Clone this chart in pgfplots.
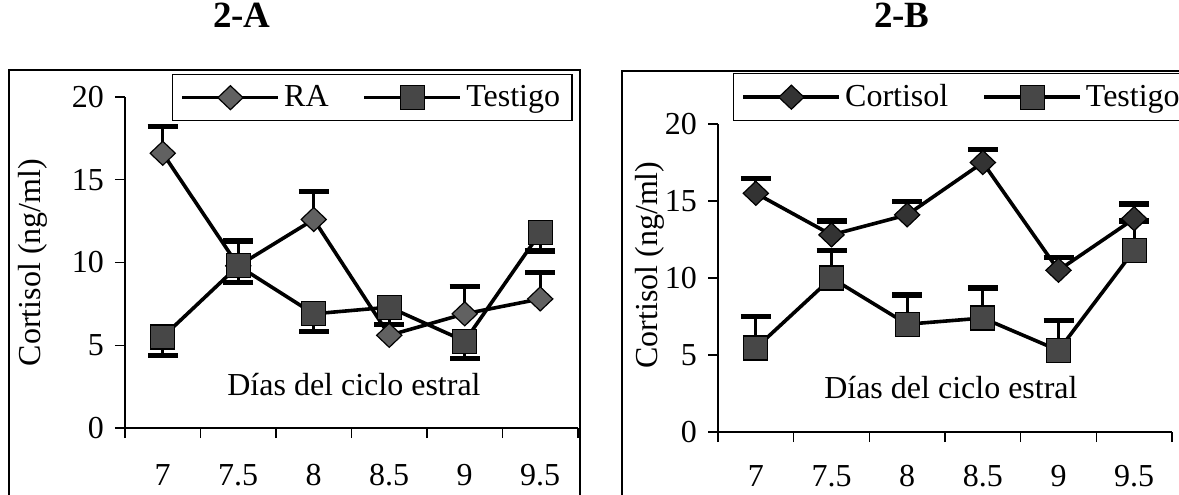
\documentclass[border=0pt]{standalone}
\usepackage{fontspec}
\setmainfont{Liberation Serif}
\usepackage{pgfplots}
\pgfplotsset{compat=1.18}
\usepackage{pgfplotstable}

\newcommand\ff{\fontsize{16pt}{18pt}\selectfont}
\newcommand\tf{\fontsize{18.5pt}{20pt}\selectfont\bfseries}

% Panel 2-A: RA (error up) and Testigo (error down)
\pgfplotstableread{
x ra era te ete
0 16.6 1.6 5.5 1.1
1 9.8 1.5 9.8 1.0
2 12.6 1.7 6.9 1.05
3 5.6 0.65 7.3 1.05
4 6.9 1.65 5.25 1.05
5 7.8 1.6 11.8 1.1
}\tableA

% Panel 2-B: Cortisol and Testigo (errors up)
\pgfplotstableread{
x co eco te ete
0 15.5 0.95 5.45 2.05
1 12.8 0.9 10.0 1.8
2 14.1 0.85 7.0 1.9
3 17.5 0.85 7.4 1.95
4 10.5 0.85 5.3 1.95
5 13.85 0.95 11.8 1.9
}\tableB

\pgfplotsset{
  panel/.style={
    scale only axis, anchor=south west,
    axis lines*=left,
    axis line style={line width=0.7pt, black},
    xmin=-0.5, xmax=5.5, ymin=0, ymax=20,
    xtick={0,...,5}, xticklabels={7,7.5,8,8.5,9,9.5},
    major x tick style={draw=none},
    minor xtick={-0.5,0.5,...,5.5},
    ytick={0,5,10,15,20}, yticklabels={0,5,10,15,20},
    tick align=outside, major tick length=5pt, minor tick length=5pt,
    tick style={line width=0.7pt, black},
    ticklabel style={font=\ff},
    xticklabel shift=10pt,
    yticklabel shift=2pt,
    /pgf/number format/assume math mode=true,
    label style={font=\ff},
    ylabel={Cortisol (ng/ml)},
    xlabel={Días del ciclo estral},
    title style={font=\tf, anchor=center},
    clip=false,
    legend columns=2,
    legend cell align=left,
    legend style={draw=black, line width=0.6pt, font=\ff, anchor=north west,
      inner xsep=4pt, inner ysep=3.5pt,
      /tikz/every even column/.append style={column sep=15pt}},
    legend image code/.code={\draw[mark repeat=2, mark phase=2, ##1] plot coordinates {(0pt,0pt) (24pt,0pt) (48pt,0pt)};},
  },
  lineplot/.style={black, line width=1.8pt, mark size=#1,
    error bars/y explicit,
    error bars/error bar style={line width=1.6pt, black},
    error bars/error mark options={rotate=90, mark size=7.5pt, line width=2.6pt, black}},
}

\begin{document}
\begin{tikzpicture}
\useasboundingbox (0,0) rectangle (589.5pt,247pt);

% ---------- 2-A ----------
\begin{axis}[panel,
  at={(62.5pt,33pt)}, width=226.5pt, height=165.5pt,
  title={2-A}, title style={at={(axis description cs:0.258,1.2115)}},
  ylabel style={at={(axis description cs:-0.203,0.5)}, rotate=0, anchor=center},
  xlabel style={at={(axis description cs:0.5055,0.13)}, anchor=center},
  legend style={at={(axis description cs:0.1038,1.0695)}},
  xticklabel shift=9.5pt,
]
\addplot[lineplot=6pt, mark=diamond*, mark options={fill=black!62, draw=black, line width=0.6pt, xscale=1.4},
  error bars/y dir=plus]
  table[x=x, y=ra, y error=era]{\tableA};
\addlegendentry{RA}
\addplot[lineplot=6pt, mark=square*, mark options={fill=black!72, draw=black, line width=0.6pt},
  error bars/y dir=minus]
  table[x=x, y=te, y error=ete]{\tableA};
\addlegendentry{Testigo}
\end{axis}

% ---------- 2-B ----------
\begin{axis}[panel,
  at={(359pt,31pt)}, width=227pt, height=154pt,
  title={2-B}, title style={at={(axis description cs:0.405,1.315)}},
  ylabel style={at={(axis description cs:-0.15,0.542)}, rotate=0, anchor=center},
  xlabel style={at={(axis description cs:0.513,0.143)}, anchor=center},
  legend style={at={(axis description cs:0.033,1.1656)}},
  xticklabel shift=8pt,
]
\addplot[lineplot=6pt, mark=diamond*, mark options={fill=black!80, draw=black, line width=0.6pt, xscale=1.4},
  error bars/y dir=plus]
  table[x=x, y=co, y error=eco]{\tableB};
\addlegendentry{Cortisol}
\addplot[lineplot=6pt, mark=square*, mark options={fill=black!72, draw=black, line width=0.6pt},
  error bars/y dir=plus]
  table[x=x, y=te, y error=ete]{\tableB};
\addlegendentry{Testigo}
\end{axis}

% panel frames
\draw[line width=0.6pt] (4.5pt,-5pt) rectangle (290pt,212pt);
\draw[line width=0.6pt] (311pt,-5pt) rectangle (600pt,211.5pt);
\end{tikzpicture}
\end{document}
